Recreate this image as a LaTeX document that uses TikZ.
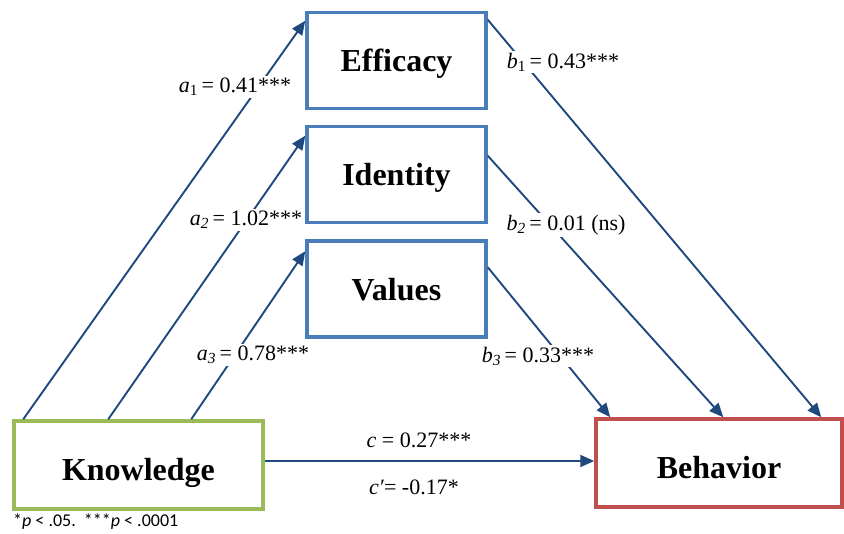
\documentclass[tikz,border=0pt]{standalone}
\usepackage{fontspec}
\setmainfont{Liberation Serif}
\newfontfamily\notefont{Carlito}
\usetikzlibrary{arrows.meta,calc}

\definecolor{boxblue}{RGB}{74,126,187}
\definecolor{boxgreen}{RGB}{155,187,89}
\definecolor{boxred}{RGB}{192,80,77}
\definecolor{pathblue}{RGB}{31,73,125}

\tikzset{
  varbox/.style={draw, line width=3.5pt, rectangle, inner sep=0pt, text depth=0pt,
    font=\bfseries\fontsize{32}{36}\selectfont},
  mediator/.style={varbox, draw=boxblue, minimum width=179pt, minimum height=96pt},
  endbox/.style={varbox, minimum height=88pt, text height=31pt},
  pathline/.style={draw=pathblue, line width=1.9pt,
    -{Triangle[length=14pt,width=12pt]}},
  coef/.style={font=\fontsize{22}{25}\selectfont, inner sep=2pt, fill=white},
}

\begin{document}
\begin{tikzpicture}[x=1pt,y=-1pt]
  \useasboundingbox (0,0) rectangle (844,534);

  % variables
  \node[mediator] (eff) at (396.5,60.5) {Efficacy};
  \node[mediator] (ide) at (396.5,174.5) {Identity};
  \node[mediator] (val) at (396.5,289) {Values};
  \node[endbox, draw=boxgreen, minimum width=249pt] (know) at (138.5,465) {Knowledge};
  \node[endbox, draw=boxred, minimum width=246pt] (beh) at (719,463) {Behavior};

  % a paths
  \draw[pathline] ($(know.north west)+(11,0)$) -- ($(eff.north west)+(0,10)$);
  \draw[pathline] ($(know.north west)+(96,0)$) -- ($(ide.north west)+(0,11)$);
  \draw[pathline] ($(know.north west)+(179,0)$) -- ($(val.north west)+(0,12)$);

  % b paths
  \draw[pathline] ($(eff.north east)+(0,9)$) -- ($(beh.north west)+(227,0)$);
  \draw[pathline] ($(ide.north east)+(0,31)$) -- ($(beh.north west)+(129,0)$);
  \draw[pathline] ($(val.north east)+(0,28)$) -- ($(beh.north west)+(16,0)$);

  % direct path
  \draw[pathline] (know.east |- 0,461) coordinate (cstart) -- (beh.west |- cstart);

  % coefficients
  \node[coef] (la1) at (235,87) {\textit{a}\textsubscript{1}\,= 0.41***};
  \node[coef] (lb1) at (563,62) {\textit{b}\textsubscript{1}\,= 0.43***};
  \node[coef] (la2) at (246,220) {\textit{a}\textsubscript{\textit{2}}\,= 1.02***};
  \node[coef] (lb2) at (566,225) {\textit{b}\textsubscript{\textit{2}}\,= 0.01 (ns)};
  \node[coef] (la3) at (253,355) {\textit{a}\textsubscript{\textit{3}}\,= 0.78***};
  \node[coef] (lb3) at (538,356) {\textit{b}\textsubscript{\textit{3}}\,= 0.33***};
  \node[coef, fill=none] (lc) at (419,440) {\textit{c} = 0.27***};
  \node[coef, fill=none] (lcp) at (414,487) {\textit{c′}= -0.17*};

  % significance note
  \node[anchor=west, inner sep=0pt, font=\notefont\fontsize{18}{21}\selectfont] (note) at (13,522)
    {*\textit{p} < .05.\ \ ***\textit{p} < .0001};
\end{tikzpicture}
\end{document}
